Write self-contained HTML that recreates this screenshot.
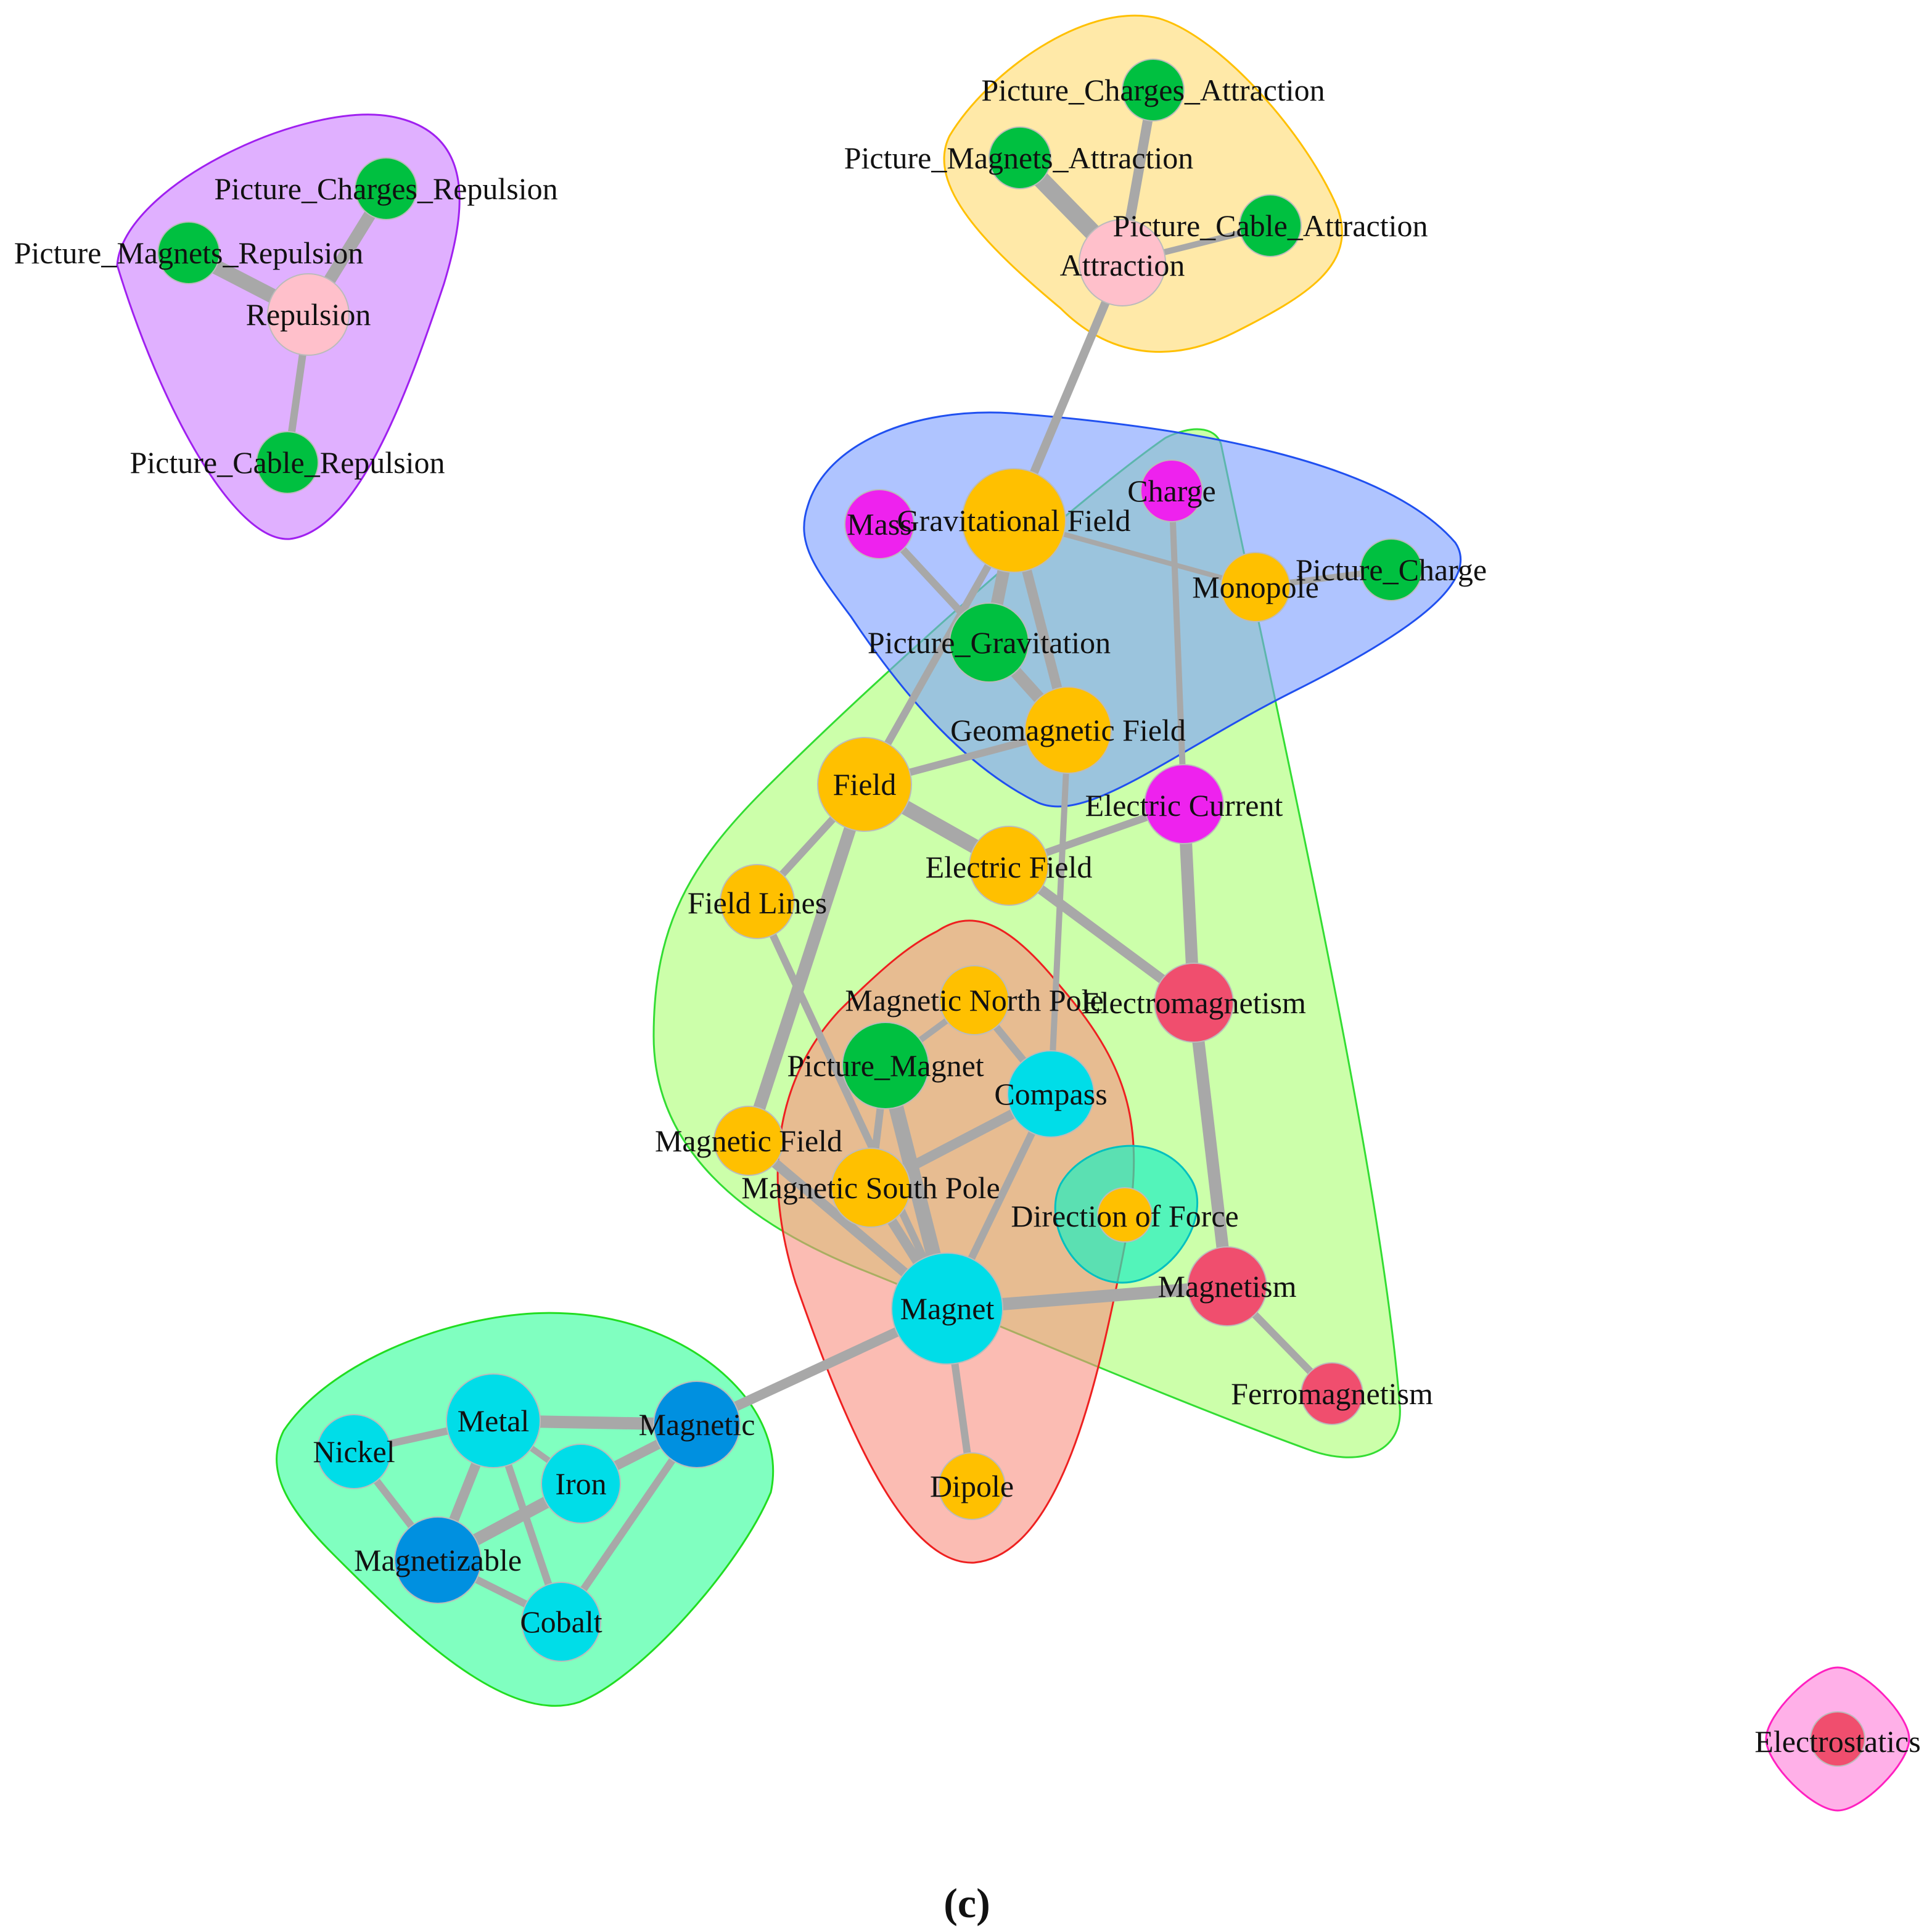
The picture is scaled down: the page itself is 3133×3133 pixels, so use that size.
<!DOCTYPE html>
<html><head><meta charset="utf-8"><style>
html,body{margin:0;padding:0;background:#fff;}
svg{display:block;}
text{font-family:"Liberation Serif",serif;font-size:25px;fill:#111;text-anchor:middle;dominant-baseline:central;}
</style></head><body>
<svg width="3133" height="3133" viewBox="0 0 1566.5 1566.5" xmlns="http://www.w3.org/2000/svg">
<rect width="1567" height="1567" fill="#fff"/>
<path d="M95 215 C100 150 250 80 320 95 C390 110 375 180 360 230 C330 320 290 430 235 437 C190 440 130 330 95 215 Z" fill="#e0b0ff" stroke="#a020f0" stroke-width="1.5"/>
<path d="M770 110 C800 60 880 0 940 15 C990 30 1060 110 1085 170 C1100 215 1060 240 1000 270 C950 295 900 290 860 250 C800 200 750 150 770 110 Z" fill="#ffe9a8" stroke="#ffc000" stroke-width="1.5"/>
<path d="M945 355 C965 345 985 345 990 360 C1040 600 1120 950 1135 1140 C1138 1180 1100 1190 1060 1175 C950 1135 800 1070 700 1030 C600 990 530 930 530 840 C530 750 560 700 620 640 C720 540 880 400 945 355 Z" fill="#ccffaa" stroke="#33dd33" stroke-width="1.5"/>
<path d="M655 410 C670 360 740 330 820 335 C950 345 1120 370 1180 440 C1200 470 1150 510 1050 560 C950 610 880 670 840 650 C780 620 730 560 690 500 C660 460 645 440 655 410 Z" fill="#7a9dff" fill-opacity="0.6" stroke="#2050f0" stroke-width="1.5"/>
<path d="M760 755 C790 735 820 750 860 800 C920 870 930 920 910 1020 C890 1120 860 1260 790 1267 C730 1270 680 1140 645 1040 C620 960 625 880 680 820 C720 780 740 765 760 755 Z" fill="#f89080" fill-opacity="0.6" stroke="#ee2020" stroke-width="1.5"/>
<path d="M860 960 C880 925 940 915 965 955 C985 985 950 1040 910 1040 C870 1040 845 990 860 960 Z" fill="#20f0c0" fill-opacity="0.7" stroke="#00c0c0" stroke-width="1.5"/>
<path d="M230 1160 C270 1100 380 1060 460 1065 C560 1070 640 1140 625 1210 C600 1270 520 1360 470 1380 C410 1400 330 1320 270 1260 C230 1220 215 1190 230 1160 Z" fill="#80ffc0" stroke="#22dd22" stroke-width="1.5"/>
<path d="M1490 1352 C1510 1352 1548 1390 1548 1410 C1548 1430 1510 1468 1490 1468 C1470 1468 1432 1430 1432 1410 C1432 1390 1470 1352 1490 1352 Z" fill="#ffb0e8" stroke="#ff20c0" stroke-width="1.5"/>
<g stroke="#a8a8a8" stroke-linecap="round">
<line x1="250" y1="255" x2="313" y2="153" stroke-width="10"/>
<line x1="250" y1="255" x2="153" y2="205" stroke-width="12"/>
<line x1="250" y1="255" x2="233" y2="375" stroke-width="6"/>
<line x1="910" y1="213" x2="935" y2="73" stroke-width="8"/>
<line x1="910" y1="213" x2="827" y2="128" stroke-width="14"/>
<line x1="910" y1="213" x2="1030" y2="183" stroke-width="5"/>
<line x1="910" y1="213" x2="822" y2="422" stroke-width="7"/>
<line x1="713" y1="425" x2="802" y2="521" stroke-width="6"/>
<line x1="822" y1="422" x2="802" y2="521" stroke-width="10"/>
<line x1="822" y1="422" x2="866" y2="592" stroke-width="8"/>
<line x1="822" y1="422" x2="1018" y2="476" stroke-width="4"/>
<line x1="822" y1="422" x2="701" y2="636" stroke-width="6"/>
<line x1="950" y1="398" x2="960" y2="652" stroke-width="5"/>
<line x1="1018" y1="476" x2="1128" y2="462" stroke-width="5"/>
<line x1="802" y1="521" x2="866" y2="592" stroke-width="10"/>
<line x1="866" y1="592" x2="701" y2="636" stroke-width="6"/>
<line x1="866" y1="592" x2="852" y2="887" stroke-width="5"/>
<line x1="701" y1="636" x2="818" y2="702" stroke-width="12"/>
<line x1="701" y1="636" x2="614" y2="731" stroke-width="6"/>
<line x1="701" y1="636" x2="607" y2="925" stroke-width="10"/>
<line x1="960" y1="652" x2="818" y2="702" stroke-width="6"/>
<line x1="960" y1="652" x2="968" y2="813" stroke-width="10"/>
<line x1="818" y1="702" x2="968" y2="813" stroke-width="8"/>
<line x1="614" y1="731" x2="768" y2="1061" stroke-width="6"/>
<line x1="968" y1="813" x2="995" y2="1043" stroke-width="10"/>
<line x1="790" y1="811" x2="852" y2="887" stroke-width="6"/>
<line x1="790" y1="811" x2="718" y2="864" stroke-width="5"/>
<line x1="718" y1="864" x2="768" y2="1061" stroke-width="12"/>
<line x1="718" y1="864" x2="706" y2="963" stroke-width="6"/>
<line x1="852" y1="887" x2="706" y2="963" stroke-width="8"/>
<line x1="852" y1="887" x2="768" y2="1061" stroke-width="6"/>
<line x1="607" y1="925" x2="768" y2="1061" stroke-width="8"/>
<line x1="706" y1="963" x2="768" y2="1061" stroke-width="8"/>
<line x1="768" y1="1061" x2="995" y2="1043" stroke-width="10"/>
<line x1="768" y1="1061" x2="788" y2="1205" stroke-width="6"/>
<line x1="768" y1="1061" x2="565" y2="1155" stroke-width="8"/>
<line x1="995" y1="1043" x2="1080" y2="1130" stroke-width="6"/>
<line x1="400" y1="1152" x2="287" y2="1177" stroke-width="6"/>
<line x1="400" y1="1152" x2="565" y2="1155" stroke-width="10"/>
<line x1="400" y1="1152" x2="355" y2="1265" stroke-width="8"/>
<line x1="400" y1="1152" x2="455" y2="1315" stroke-width="6"/>
<line x1="400" y1="1152" x2="471" y2="1203" stroke-width="5"/>
<line x1="565" y1="1155" x2="471" y2="1203" stroke-width="8"/>
<line x1="565" y1="1155" x2="455" y2="1315" stroke-width="6"/>
<line x1="471" y1="1203" x2="355" y2="1265" stroke-width="10"/>
<line x1="287" y1="1177" x2="355" y2="1265" stroke-width="6"/>
<line x1="355" y1="1265" x2="455" y2="1315" stroke-width="6"/>
</g>
<g stroke="#bbb" stroke-width="1">
<circle cx="250" cy="255" r="33" fill="#ffc0cb"/>
<circle cx="313" cy="153" r="25" fill="#00c040"/>
<circle cx="153" cy="205" r="25" fill="#00c040"/>
<circle cx="233" cy="375" r="25" fill="#00c040"/>
<circle cx="910" cy="213" r="35" fill="#ffc0cb"/>
<circle cx="935" cy="73" r="25" fill="#00c040"/>
<circle cx="827" cy="128" r="25" fill="#00c040"/>
<circle cx="1030" cy="183" r="25" fill="#00c040"/>
<circle cx="822" cy="422" r="42" fill="#ffc000"/>
<circle cx="713" cy="425" r="28" fill="#ee22ee"/>
<circle cx="950" cy="398" r="25" fill="#ee22ee"/>
<circle cx="1018" cy="476" r="28" fill="#ffc000"/>
<circle cx="1128" cy="462" r="25" fill="#00c040"/>
<circle cx="802" cy="521" r="32" fill="#00c040"/>
<circle cx="866" cy="592" r="35" fill="#ffc000"/>
<circle cx="701" cy="636" r="38" fill="#ffc000"/>
<circle cx="960" cy="652" r="32" fill="#ee22ee"/>
<circle cx="818" cy="702" r="32" fill="#ffc000"/>
<circle cx="614" cy="731" r="30" fill="#ffc000"/>
<circle cx="968" cy="813" r="32" fill="#f04e6e"/>
<circle cx="790" cy="811" r="28" fill="#ffc000"/>
<circle cx="718" cy="864" r="35" fill="#00c040"/>
<circle cx="852" cy="887" r="35" fill="#00dde8"/>
<circle cx="607" cy="925" r="28" fill="#ffc000"/>
<circle cx="706" cy="963" r="32" fill="#ffc000"/>
<circle cx="912" cy="985" r="22" fill="#ffc000"/>
<circle cx="768" cy="1061" r="45" fill="#00dde8"/>
<circle cx="995" cy="1043" r="32" fill="#f04e6e"/>
<circle cx="1080" cy="1130" r="25" fill="#f04e6e"/>
<circle cx="788" cy="1205" r="27" fill="#ffc000"/>
<circle cx="400" cy="1152" r="38" fill="#00dde8"/>
<circle cx="287" cy="1177" r="30" fill="#00dde8"/>
<circle cx="565" cy="1155" r="35" fill="#0090e0"/>
<circle cx="471" cy="1203" r="32" fill="#00dde8"/>
<circle cx="355" cy="1265" r="35" fill="#0090e0"/>
<circle cx="455" cy="1315" r="32" fill="#00dde8"/>
<circle cx="1490" cy="1410" r="22" fill="#f04e6e"/>
</g>
<text x="250" y="255">Repulsion</text>
<text x="313" y="153">Picture_Charges_Repulsion</text>
<text x="153" y="205">Picture_Magnets_Repulsion</text>
<text x="233" y="375">Picture_Cable_Repulsion</text>
<text x="910" y="215">Attraction</text>
<text x="935" y="73">Picture_Charges_Attraction</text>
<text x="826" y="128">Picture_Magnets_Attraction</text>
<text x="1030" y="183">Picture_Cable_Attraction</text>
<text x="822" y="422">Gravitational Field</text>
<text x="713" y="425">Mass</text>
<text x="950" y="398">Charge</text>
<text x="1018" y="476">Monopole</text>
<text x="1128" y="462">Picture_Charge</text>
<text x="802" y="521">Picture_Gravitation</text>
<text x="866" y="592">Geomagnetic Field</text>
<text x="701" y="636">Field</text>
<text x="960" y="653">Electric Current</text>
<text x="818" y="703">Electric Field</text>
<text x="614" y="732">Field Lines</text>
<text x="968" y="813">Electromagnetism</text>
<text x="790" y="811">Magnetic North Pole</text>
<text x="718" y="864">Picture_Magnet</text>
<text x="852" y="887">Compass</text>
<text x="607" y="925">Magnetic Field</text>
<text x="706" y="963">Magnetic South Pole</text>
<text x="912" y="986">Direction of Force</text>
<text x="768" y="1061">Magnet</text>
<text x="995" y="1043">Magnetism</text>
<text x="1080" y="1130">Ferromagnetism</text>
<text x="788" y="1205">Dipole</text>
<text x="400" y="1152">Metal</text>
<text x="287" y="1177">Nickel</text>
<text x="565" y="1155">Magnetic</text>
<text x="471" y="1203">Iron</text>
<text x="355" y="1265">Magnetizable</text>
<text x="455" y="1315">Cobalt</text>
<text x="1490" y="1412">Electrostatics</text>
<text x="784" y="1543" style="font-size:34px;font-weight:bold;">(c)</text>
</svg>
</body></html>
